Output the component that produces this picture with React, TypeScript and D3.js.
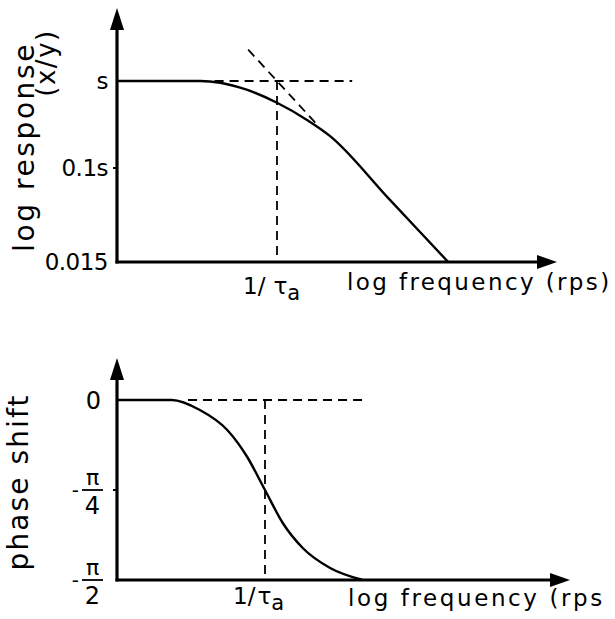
import React from "react";
import * as d3 from "d3";

// upper panel: log frequency (decades re 1/τa) vs log response (decades re s)
const magFreq = [-2, -0.96, -0.71, -0.38, 0, 0.38, 0.66, 1.4, 2.14];
const magResp = [0, 0, -0.02, -0.1, -0.25, -0.45, -0.63, -1.355, -2.08];
const asymFreq = [-0.36, 0.5];
const asymResp = [0.36, -0.5];
const magTicks = [0, -1, -2.08];
const magTickLabels = ["s", "0.1s", "0.015"];
const magGuideFreq = [-0.78, 0.94];

// lower panel: phase shift in degrees
const phaseFreq = [-2, -1.26, -0.88, -0.51, -0.24, 0, 0.24, 0.51, 0.88, 1.32];
const phaseDeg = [0, 0, -5, -15, -28.5, -45, -61.5, -74, -84, -90];
const phaseTicks = [0, -45, -90];
const phaseTickLabels = ["0", "4", "2"]; // denominators of π/4, π/2
const phaseGuideFreq = [-1.04, 1.32];

const FONT = "'DejaVu Sans', sans-serif";

const App = () => {
    const W = 615;
    const H = 619;

    // scales
    const x1 = d3.scaleLinear().domain([-2, 0]).range([117, 277]);
    const y1 = d3.scaleLinear().domain([-2.08, 0]).range([262, 81]);
    const x2 = d3.scaleLinear().domain([-2, 0]).range([117, 265]);
    const y2 = d3.scaleLinear().domain([-90, 0]).range([580, 400]);

    const magLine = d3
        .line<number>()
        .x((d, i) => x1(magFreq[i]))
        .y(d => y1(d))
        .curve(d3.curveMonotoneX);

    const phaseLine = d3
        .line<number>()
        .x((d, i) => x2(phaseFreq[i]))
        .y(d => y2(d))
        .curve(d3.curveMonotoneX);

    const dash = "9,6";

    // axis geometry
    const ax1 = { x0: x1(-2), y0: y1(-2.08), xEnd: 557, yEnd: 8 };
    const ax2 = { x0: x2(-2), y0: y2(-90), xEnd: 570, yEnd: 358 };

    const arrowUp = (x: number, tip: number) => `M${x - 7},${tip + 22}L${x + 7},${tip + 22}L${x},${tip}Z`;
    const arrowRight = (tip: number, y: number) => `M${tip - 20},${y - 7}L${tip - 20},${y + 7}L${tip},${y}Z`;

    return (
        <svg
            width={W}
            height={H}
            style={{ position: "absolute", left: 0, top: 0, background: "#fff" }}
            fontFamily={FONT}
        >
            <rect width={W} height={H} fill="#fff" />

            {/* ---------- upper panel ---------- */}
            <g>
                {/* guides */}
                <line
                    x1={x1(magGuideFreq[0])} x2={x1(magGuideFreq[1])}
                    y1={y1(0)} y2={y1(0)}
                    stroke="#000" strokeWidth={1.8} strokeDasharray={dash}
                />
                <line
                    x1={x1(0)} x2={x1(0)}
                    y1={y1(0)} y2={ax1.y0}
                    stroke="#000" strokeWidth={1.8} strokeDasharray={dash}
                />
                <line
                    x1={x1(asymFreq[0])} x2={x1(asymFreq[1])}
                    y1={y1(asymResp[0])} y2={y1(asymResp[1])}
                    stroke="#000" strokeWidth={1.8} strokeDasharray={dash}
                />

                {/* response curve */}
                <path d={magLine(magResp) || ""} fill="none" stroke="#000" strokeWidth={2.4} />

                {/* axes */}
                <line x1={ax1.x0} x2={ax1.x0} y1={ax1.y0 + 1.5} y2={ax1.yEnd + 15} stroke="#000" strokeWidth={3.2} />
                <line x1={ax1.x0 - 1.5} x2={ax1.xEnd - 15} y1={ax1.y0} y2={ax1.y0} stroke="#000" strokeWidth={3.2} />
                <path d={arrowUp(ax1.x0, ax1.yEnd)} fill="#000" />
                <path d={arrowRight(ax1.xEnd, ax1.y0)} fill="#000" />
                <line x1={ax1.x0 - 4} x2={ax1.x0} y1={y1(-1)} y2={y1(-1)} stroke="#000" strokeWidth={2} />

                {/* tick labels */}
                {magTicks.map((t, i) => (
                    <text key={i} x={108} y={y1(t) + 8} textAnchor="end" fontSize={23} letterSpacing={-0.5}>
                        {magTickLabels[i]}
                    </text>
                ))}

                <text x={243} y={294} fontSize={23}>
                    1/
                    <tspan dx={8}>τ</tspan>
                    <tspan dy={6} fontSize={21}>a</tspan>
                </text>
                <text x={347} y={290} fontSize={23} letterSpacing={2.4}>
                    log frequency (rps)
                </text>

                <text transform="translate(34,147) rotate(-90)" textAnchor="middle" fontSize={28} letterSpacing={2.6}>
                    log response
                </text>
                <text transform="translate(55,63) rotate(-90)" textAnchor="middle" fontSize={26} letterSpacing={1.5}>
                    (x/y)
                </text>
            </g>

            {/* ---------- lower panel ---------- */}
            <g>
                <line
                    x1={x2(phaseGuideFreq[0])} x2={x2(phaseGuideFreq[1])}
                    y1={y2(0)} y2={y2(0)}
                    stroke="#000" strokeWidth={1.8} strokeDasharray={dash}
                />
                <line
                    x1={x2(0)} x2={x2(0)}
                    y1={y2(0)} y2={ax2.y0}
                    stroke="#000" strokeWidth={1.8} strokeDasharray={dash}
                />

                <path d={phaseLine(phaseDeg) || ""} fill="none" stroke="#000" strokeWidth={2.4} />

                <line x1={ax2.x0} x2={ax2.x0} y1={ax2.y0 + 1.5} y2={ax2.yEnd + 15} stroke="#000" strokeWidth={3.2} />
                <line x1={ax2.x0 - 1.5} x2={ax2.xEnd - 15} y1={ax2.y0} y2={ax2.y0} stroke="#000" strokeWidth={3.2} />
                <path d={arrowUp(ax2.x0, ax2.yEnd)} fill="#000" />
                <path d={arrowRight(ax2.xEnd, ax2.y0)} fill="#000" />
                <line x1={ax2.x0 - 4} x2={ax2.x0} y1={y2(-45)} y2={y2(-45)} stroke="#000" strokeWidth={2} />

                {phaseTicks.map((t, i) =>
                    t === 0 ? (
                        <text key={i} x={101} y={y2(t) + 9} textAnchor="end" fontSize={24}>
                            {phaseTickLabels[i]}
                        </text>
                    ) : (
                        <g key={i}>
                            <text x={79} y={y2(t) + 7} textAnchor="end" fontSize={20}>-</text>
                            <text x={92.5} y={y2(t) - 5} textAnchor="middle" fontSize={22}>π</text>
                            <line x1={82} x2={103} y1={y2(t)} y2={y2(t)} stroke="#000" strokeWidth={1.8} />
                            <text x={92.5} y={y2(t) + 24} textAnchor="middle" fontSize={24}>
                                {phaseTickLabels[i]}
                            </text>
                        </g>
                    )
                )}

                <text x={233} y={604} fontSize={23}>
                    1/
                    <tspan dx={2}>τ</tspan>
                    <tspan dy={6} fontSize={21}>a</tspan>
                </text>
                <text x={348} y={606} fontSize={23} letterSpacing={2.6}>
                    log frequency (rps
                </text>

                <text transform="translate(28,482) rotate(-90)" textAnchor="middle" fontSize={28} letterSpacing={2.1}>
                    phase shift
                </text>
            </g>
        </svg>
    );
};

export default App;
